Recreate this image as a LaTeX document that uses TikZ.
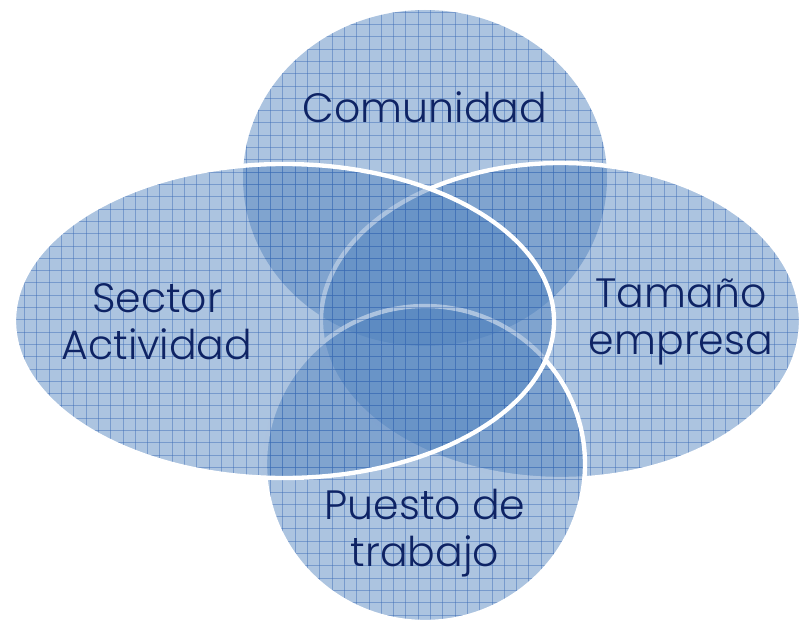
\documentclass[tikz,border=0pt]{standalone}
\usepackage{fontspec}
\setmainfont{Poppins}[UprightFont=* Light]
\definecolor{fillblue}{RGB}{79,129,189}
\definecolor{gridblue}{RGB}{55,105,180}
\definecolor{txtblue}{RGB}{14,35,100}
\newcommand\vshape[5]{%
  \fill[fillblue, fill opacity=0.47] (#1,#2) ellipse [x radius=#3, y radius=#4];
  \begin{scope}
    \clip (#1,#2) ellipse [x radius=#3, y radius=#4];
    \foreach \i in {0,...,66} \draw[gridline] (\i*12.3,0) -- (\i*12.3,625);
    \foreach \j in {0,...,51} \draw[gridline] (0,\j*12.3) -- (801,\j*12.3);
  \end{scope}
  \if#51\draw[border] (#1,#2) ellipse [x radius=#3, y radius=#4];\fi
}
\begin{document}
\begin{tikzpicture}[x=0.3mm,y=-0.3mm,
  gridline/.style={gridblue, opacity=0.45, line width=0.3mm},
  border/.style={white, line width=1.3mm},
  label/.style={text=txtblue, font=\fontsize{35}{40}\selectfont, align=center, inner sep=0pt}]
\useasboundingbox (0,0) rectangle (801,625);
\vshape{425}{178}{182}{168}{0}
\vshape{561}{321}{240}{158}{1}
\vshape{425}{464}{160}{158}{1}
\vshape{284}{321}{270}{157}{1}
\node[label] (com) at (425,107) {Comunidad};
\node[label] (sec) at (157,322) {Sector\\Actividad};
\node[label] (tam) at (681,322) {Tamaño\\empresa};
\node[label] (pue) at (425,533) {Puesto de\\trabajo};
\end{tikzpicture}
\end{document}
